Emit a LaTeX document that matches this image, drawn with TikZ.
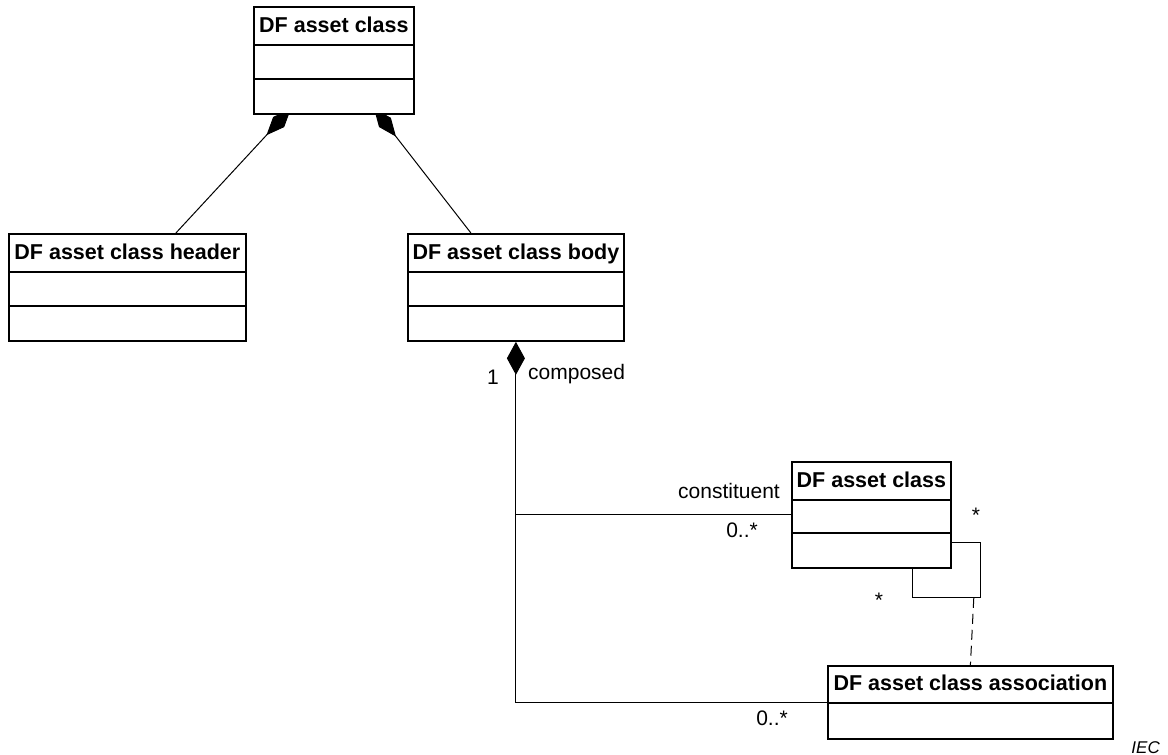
\documentclass[tikz,border=0pt]{standalone}
\usepackage{fontspec}
\setmainfont{Liberation Sans}
\usetikzlibrary{arrows.meta,backgrounds,calc}
\tikzset{
  cls/.style={draw, line width=1.8pt, fill=white, inner sep=0pt, anchor=north west},
  divider/.style={line width=1.8pt},
  ttl/.style={font=\fontsize{21.5}{21.5}\selectfont\bfseries, anchor=base, inner sep=0pt},
  lbl/.style={font=\fontsize{21}{21}\selectfont, inner sep=0pt},
  conn/.style={line width=1pt},
  comp/.style={-{Diamond[length=36pt,width=15pt]}},
  assocdash/.style={line width=1pt, dash pattern=on 10pt off 6pt},
}
\begin{document}
\begin{tikzpicture}[x=1pt,y=-1pt]
\useasboundingbox (0,0) rectangle (1168,755);

% top class
\node[cls, minimum width=160pt, minimum height=107pt] (top) at (253,6) {};
\draw[divider] ($(top.north west)+(0,39)$) -- ($(top.north east)+(0,39)$);
\draw[divider] ($(top.north west)+(0,73)$) -- ($(top.north east)+(0,73)$);
\node[ttl] (topT) at ($(top.north)+(0,26)$) {DF asset class};

% header class
\node[cls, minimum width=237pt, minimum height=107pt] (hdr) at (8,233) {};
\draw[divider] ($(hdr.north west)+(0,39)$) -- ($(hdr.north east)+(0,39)$);
\draw[divider] ($(hdr.north west)+(0,73)$) -- ($(hdr.north east)+(0,73)$);
\node[ttl] (hdrT) at ($(hdr.north)+(0,26)$) {DF asset class header};

% body class
\node[cls, minimum width=216pt, minimum height=107pt] (body) at (407,233) {};
\draw[divider] ($(body.north west)+(0,39)$) -- ($(body.north east)+(0,39)$);
\draw[divider] ($(body.north west)+(0,73)$) -- ($(body.north east)+(0,73)$);
\node[ttl] (bodyT) at ($(body.north)+(0,26)$) {DF asset class body};

% constituent class
\node[cls, minimum width=159pt, minimum height=106pt] (cls) at (791,461) {};
\draw[divider] ($(cls.north west)+(0,39)$) -- ($(cls.north east)+(0,39)$);
\draw[divider] ($(cls.north west)+(0,72)$) -- ($(cls.north east)+(0,72)$);
\node[ttl] (clsT) at ($(cls.north)+(0,26)$) {DF asset class};

% association class
\node[cls, minimum width=285pt, minimum height=73pt] (assoc) at (827,665) {};
\draw[divider] ($(assoc.north west)+(0,38)$) -- ($(assoc.north east)+(0,38)$);
\node[ttl] (assocT) at ($(assoc.north)+(0,25)$) {DF asset class association};

\begin{pgfonlayer}{background}
  \draw[conn, comp] ($(hdr.north)+(48.5,0)$) -- ($(top.south)+(-43,-6)$);
  \draw[conn, comp] ($(body.north)+(-45,0)$) -- ($(top.south)+(40,-6.6)$);
\end{pgfonlayer}

% composition body -> constituents
\draw[conn, {Diamond[length=33pt,width=18pt]}-] (body.south) |- (assoc.west);
\draw[conn] (body.south |- cls.west) -- (cls.west);

% self association loop
\draw[conn] ($(cls.south east)+(0,-26)$) -- ++(29,0) -- ++(0,55) coordinate (lpc)
  -- ++(-68,0) -- ++(0,-29);
\coordinate (lpd) at ($(lpc)+(-7,0)$);
\draw[assocdash] (lpd) -- (assoc.north);

% labels
\node[lbl, anchor=base] (m1) at (493,384) {1};
\node[lbl, anchor=base west] (lcomp) at (528,379) {composed};
\node[lbl, anchor=base east] (lcon) at (780,498) {constituent};
\node[lbl, anchor=base east] (m2) at (758,537) {0..*};
\node[lbl, anchor=base] (m3) at (976,522) {*};
\node[lbl, anchor=base] (m4) at (879,607) {*};
\node[lbl, anchor=base east] (m5) at (788,725) {0..*};
\node[font=\fontsize{17}{17}\selectfont\itshape, anchor=base east, inner sep=0pt] (iec) at (1160,753) {IEC};
\end{tikzpicture}
\end{document}
